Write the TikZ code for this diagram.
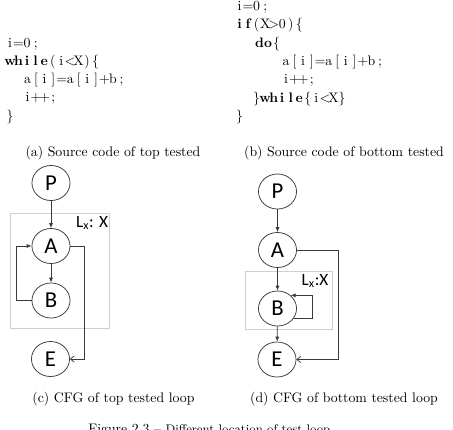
\documentclass[tikz,border=0pt]{standalone}
\usepackage{fontspec}
\newfontfamily\cfgfont{Carlito}
\usetikzlibrary{shapes.geometric,arrows.meta}
\makeatletter
\newcommand\codecols[1]{\@tfor\cz:=#1\do{\makebox[0.62em]{\cz}}}
\makeatother
\definecolor{lineg}{HTML}{3A3A3A}
\definecolor{boxg}{HTML}{CFCFCF}
\begin{document}
\begin{tikzpicture}[x=0.725pt,y=-0.725pt,
  code/.style={anchor=base west,inner sep=0pt,font=\fontsize{10}{12}\selectfont},
  capt/.style={anchor=base,inner sep=0pt,font=\fontsize{10}{12}\selectfont},
  cfg/.style={ellipse,draw=lineg,line width=0.55pt,minimum width=27.6pt,minimum height=25.4pt,inner sep=0pt,font=\cfgfont\fontsize{16.5}{18}\selectfont},
  region/.style={draw=boxg,line width=0.5pt},
  lbl/.style={inner sep=0pt,font=\cfgfont\fontsize{12.5}{14}\selectfont},
  edge/.style={draw=lineg,line width=0.55pt,-{Latex[length=3.6pt,width=3pt]}},
  edgeb/.style={draw=lineg,line width=0.55pt,-{Straight Barb[length=2.6pt,width=4.4pt]}}]
\useasboundingbox (0,0) rectangle (453,429);

% (a) code
\node[code] (la1) at (5.5,47) {\codecols{i=0;}};
\node[code] (la2) at (5.5,65.3) {{\bfseries\codecols{while}}\codecols{(i\textless X)\{}};
\node[code] (la3) at (23,83.6) {\codecols{a[i]=a[i]+b;}};
\node[code] (la4) at (23,101.9) {\codecols{i++;}};
\node[code] (la5) at (5.5,120.2) {\codecols{\}}};
% (b) code
\node[code] (lb1) at (235,10.5) {\codecols{i=0;}};
\node[code] (lb2) at (235,28.8) {{\bfseries\codecols{if}}\codecols{(X\textgreater0)\{}};
\node[code] (lb3) at (255,47.1) {{\bfseries\codecols{do}}\codecols{\{}};
\node[code] (lb4) at (281.5,65.4) {\codecols{a[i]=a[i]+b;}};
\node[code] (lb5) at (281.5,83.7) {\codecols{i++;}};
\node[code] (lb6) at (252,102) {\codecols{\}}{\bfseries\codecols{while}}\codecols{\{i\textless X\}}};
\node[code] (lb7) at (235,120.3) {\codecols{\}}};

\node[capt] (ca) at (113,156) {(a) Source code of top tested};
\node[capt] (cb) at (344,156) {(b) Source code of bottom tested};

% (c) CFG top tested
\draw[region] (10.7,213.3) rectangle (109.3,328.3);
\node[cfg] (P1) at (51,183) {P};
\node[cfg] (A1) at (51,246) {A};
\node[cfg] (B1) at (51,300.5) {B};
\node[cfg] (E1) at (50.5,359) {E};
\node[lbl] (L1) at (92,223) {L\textsubscript{x}: X};
\coordinate (lc1) at (16.7,246);
\coordinate (rc1) at (84.3,359);
\draw[edge] (P1) -- (A1);
\draw[edge] (A1) -- (B1);
\draw[edge] (B1.west) -| (lc1) -- (A1.west);
\draw[edgeb] (A1.east) -| (rc1) -- (E1.east);

% (d) CFG bottom tested
\draw[region] (245,271) rectangle (332.7,329);
\node[cfg] (P2) at (277.5,191.5) {P};
\node[cfg] (A2) at (277.5,250) {A};
\node[cfg] (B2) at (277.5,308.5) {B};
\node[cfg] (E2) at (277,359.5) {E};
\node[lbl] (L2) at (315,281) {L\textsubscript{x}:X};
\coordinate (sl2) at (312.3,300);
\coordinate (rc2) at (338.3,359.5);
\draw[edge] (P2) -- (A2);
\draw[edge] (A2) -- (B2);
\draw[edge] (B2) -- (E2);
\draw[edge] (B2.-32) -- (B2.-32 -| sl2) -- (B2.45 -| sl2) -- (B2.45);
\draw[edgeb] (A2.east) -| (rc2) -- (E2.east);

\node[capt] (cc) at (113.5,402.3) {(c) CFG of top tested loop};
\node[capt] (cd) at (344,402.3) {(d) CFG of bottom tested loop};

\node[anchor=base west,inner sep=0pt,font=\fontsize{10}{12}\selectfont] (fig) at (88,433.5) {Figure 2.3 -- {\small Different location of test loop}};
\end{tikzpicture}
\end{document}
